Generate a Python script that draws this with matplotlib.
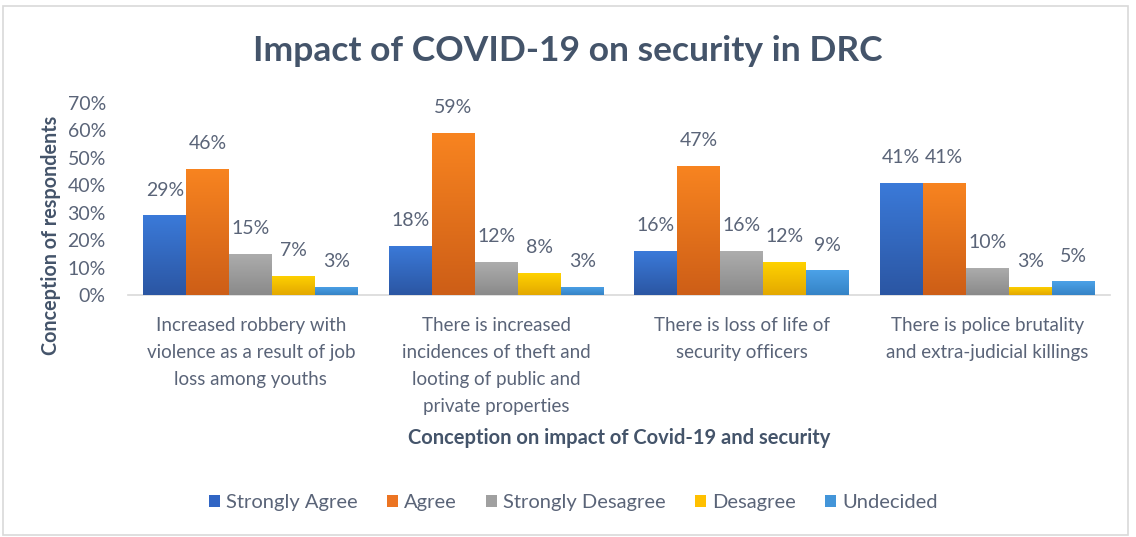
import numpy as np
import matplotlib
matplotlib.use("Agg")
import matplotlib.pyplot as plt
from matplotlib.colors import LinearSegmentedColormap
from matplotlib.patches import Rectangle, Patch

# Data
categories = [
    "Increased robbery with\nviolence as a result of job\nloss among youths",
    "There is increased\nincidences of theft and\nlooting of public and\nprivate properties",
    "There is loss of life of\nsecurity officers",
    "There is police brutality\nand extra-judicial killings",
]
series_names = ["Strongly Agree", "Agree", "Strongly Desagree", "Desagree", "Undecided"]
strongly_agree = [0.29, 0.18, 0.16, 0.41]
agree = [0.46, 0.59, 0.47, 0.41]
strongly_disagree = [0.15, 0.12, 0.16, 0.10]
disagree = [0.07, 0.08, 0.12, 0.03]
undecided = [0.03, 0.03, 0.09, 0.05]
series_values = [strongly_agree, agree, strongly_disagree, disagree, undecided]
y_ticks = [0.0, 0.1, 0.2, 0.3, 0.4, 0.5, 0.6, 0.7]

# (top colour, bottom colour) for each series' vertical gradient
gradients = [
    ("#3b7ad9", "#2b56a3"),
    ("#f88420", "#cd5e17"),
    ("#adadad", "#8a8a8a"),
    ("#ffd200", "#e3a800"),
    ("#4ca2e8", "#3583c6"),
]
solid = ["#3065c4", "#ec7422", "#a0a0a0", "#ffc000", "#4395d9"]

text_col = "#5a6478"
title_col = "#44546a"

plt.rcParams["font.family"] = ["Lato", "DejaVu Sans"]

fig = plt.figure(figsize=(11.36, 5.37), dpi=100)
ax_rect = [0.1127, 0.4507, 0.8644, 0.3575]
ax = fig.add_axes(ax_rect)

n = len(series_names)
width = 0.175
x = np.arange(len(categories))

for i, (name, vals) in enumerate(zip(series_names, series_values)):
    offs = (i - (n - 1) / 2) * width
    bars = ax.bar(x + offs, vals, width, color=solid[i], label=name, zorder=2)
    cmap = LinearSegmentedColormap.from_list(name, [gradients[i][1], gradients[i][0]])
    grad = np.linspace(0, 1, 256).reshape(-1, 1)
    for b, v in zip(bars, vals):
        bx, by = b.get_x(), b.get_y()
        bw, bh = b.get_width(), b.get_height()
        im = ax.imshow(grad, cmap=cmap, aspect="auto", origin="lower",
                       extent=[bx, bx + bw, by, by + bh], zorder=3,
                       interpolation="bilinear")
        im.set_clip_path(b)
        ax.annotate(f"{round(v * 100):d}%", (bx + bw / 2, by + bh),
                    xytext=(0, 12), textcoords="offset points",
                    ha="center", va="bottom", fontsize=14, color=text_col)

ax.set_xlim(-0.5, 3.5)
ax.set_ylim(0, 0.7)
ax.set_yticks(y_ticks)
ax.set_yticklabels([f"{int(round(t * 100))}%" for t in y_ticks])
ax.set_xticks(x)
ax.set_xticklabels(categories, linespacing=1.7)
ax.tick_params(axis="both", length=0, labelsize=13.5, colors=text_col)
ax.tick_params(axis="x", pad=16)
ax.tick_params(axis="y", pad=16)
for lbl in ax.get_yticklabels():
    lbl.set_fontsize(14)
for s in ["top", "right", "left"]:
    ax.spines[s].set_visible(False)
ax.spines["bottom"].set_color("#d9d9d9")
ax.spines["bottom"].set_linewidth(1.2)

fig.text(0.5, 0.905, "Impact of COVID-19 on security in DRC", ha="center",
         va="center", fontsize=25.5, fontweight="bold", color=title_col)
fig.text(ax_rect[0] + ax_rect[2] / 2, 0.185,
         "Conception on impact of Covid-19 and security", ha="center",
         va="center", fontsize=14.5, fontweight="bold", color=title_col)
fig.text(0.045, 0.562, "Conception of respondents", rotation=90, ha="center",
         va="center", fontsize=14.2, fontweight="bold", color=title_col)

handles = [Patch(facecolor=solid[i], label=series_names[i]) for i in range(n)]
fig.legend(handles=handles, loc="center", bbox_to_anchor=(0.505, 0.064), ncol=n,
           frameon=False, fontsize=14.5, labelcolor=text_col, handlelength=0.55,
           handleheight=0.55, handletextpad=0.3, columnspacing=1.45)

# light frame around the chart
fig.patches.append(Rectangle((0.003, 0.003), 0.99, 0.985, transform=fig.transFigure,
                             fill=False, edgecolor="#d9d9d9", linewidth=1.2))

fig.savefig("out.png", dpi=100, facecolor="white")
